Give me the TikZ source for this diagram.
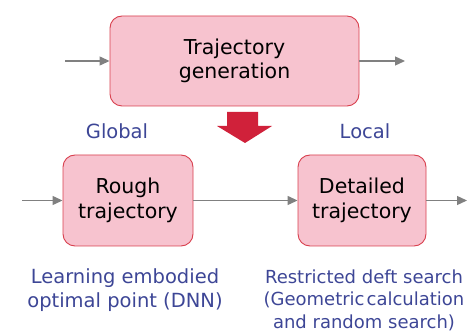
\documentclass[tikz,border=0pt]{standalone}
\usepackage{fontspec}
\setmainfont{DejaVu Sans}
\usetikzlibrary{arrows.meta}
\definecolor{boxfill}{HTML}{F7C3CF}
\definecolor{boxline}{HTML}{D8404E}
\definecolor{bigred}{HTML}{D0213A}
\definecolor{lblue}{HTML}{3D4696}
\definecolor{conn}{HTML}{808080}
\tikzset{
  stepbox/.style={draw=boxline, fill=boxfill, line width=0.9pt, rounded corners=12pt, align=center, inner sep=0pt, font=\fontsize{20.5}{24.5}\selectfont},
  lbl/.style={text=lblue, align=center, font=\fontsize{19.5}{23.5}\selectfont},
  flow/.style={draw=conn, line width=1.3pt, -{Triangle[length=10pt,width=9pt]}}
}
\begin{document}
\begin{tikzpicture}[x=1pt,y=1pt]
\useasboundingbox (0,0) rectangle (471,332);
\node[stepbox, minimum width=249pt, minimum height=90pt] (top) at (234.5,271) {Trajectory\\generation};
\node[stepbox, minimum width=130pt, minimum height=91pt] (rough) at (128,131.5) {Rough\\trajectory};
\node[stepbox, minimum width=128pt, minimum height=91pt] (det) at (362,131.5) {Detailed\\trajectory};
\coordinate (tin) at (65,271);
\coordinate (tout) at (405,271);
\coordinate (rin) at (22,131.5);
\coordinate (dout) at (467,131.5);
\draw[flow] (tin) -- (top.west);
\draw[flow] (top.east) -- (tout);
\draw[flow] (rin) -- (rough.west);
\draw[flow] (rough.east) -- (det.west);
\draw[flow] (det.east) -- (dout);
\fill[bigred] (227,220) -- (258,220) -- (258,206) -- (272,206) -- (245,189) -- (217,206) -- (227,206) -- cycle;
\node[lbl] (glob) at (117,201) {Global};
\node[lbl] (loc) at (365,201) {Local};
\node[lbl] (lrn) at (125,42) {Learning embodied\\optimal point (DNN)};
\node[lbl, inner sep=0pt, font=\fontsize{18}{22.5}\selectfont] (rst) at (364,32) {Restricted deft search\\(Geometric\hspace{2pt}calculation\\and random search)};
\end{tikzpicture}
\end{document}
